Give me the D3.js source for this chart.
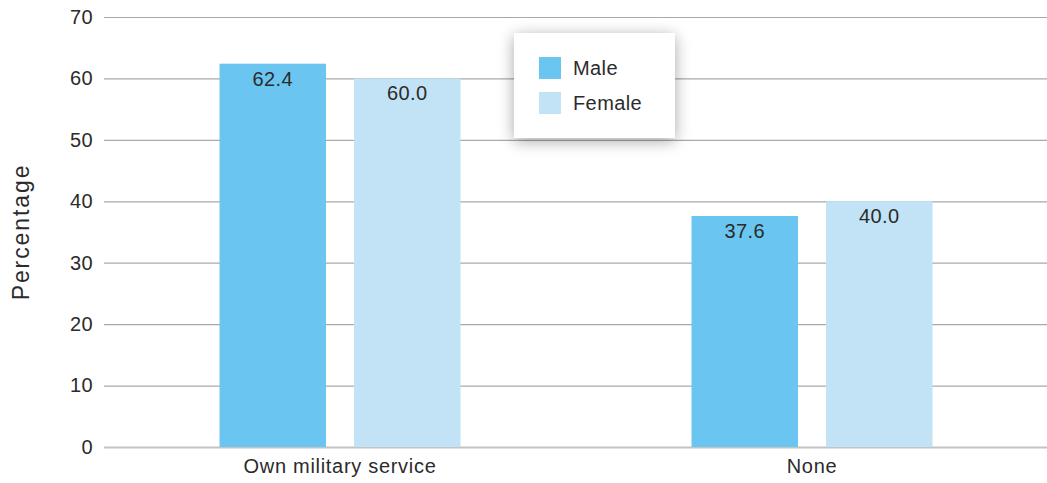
<!DOCTYPE html>
<html>
<head>
<meta charset="utf-8">
<script src="https://cdn.jsdelivr.net/npm/d3@7"></script>
<style>
  html, body { margin: 0; padding: 0; background: #fff; }
  svg { display: block; font-family: "Liberation Sans", Arial, Helvetica, sans-serif; }
</style>
</head>
<body>
<svg id="chart" width="1047" height="483"></svg>
<script>
// Chart data
const categories = ["Own military service", "None"];
const seriesNames = ["Male", "Female"];
const maleValues = [62.4, 37.6];
const femaleValues = [60.0, 40.0];
const yTicks = [0, 10, 20, 30, 40, 50, 60, 70];
const seriesColors = ["#6ac6f0", "#c1e3f5"];

const series = [maleValues, femaleValues];

const svg = d3.select("#chart");
const W = 1047, H = 483;
const margin = { top: 17, right: 0, bottom: 36, left: 104 };
const innerH = H - margin.top - margin.bottom;
const textColor = "#2b2b2b";

const x = d3.scaleBand()
  .domain(categories)
  .range([margin.left, 1048])
  .paddingInner(0)
  .paddingOuter(0);

const xSub = d3.scaleBand()
  .domain(seriesNames)
  .range([0, x.bandwidth()])
  .paddingInner(0.208)
  .paddingOuter(0.859);

const y = d3.scaleLinear()
  .domain([0, 70])
  .range([margin.top + innerH, margin.top]);

// Defs: legend shadow
const defs = svg.append("defs");
const f = defs.append("filter").attr("id", "shadow")
  .attr("x", "-30%").attr("y", "-40%").attr("width", "160%").attr("height", "180%");
f.append("feGaussianBlur").attr("in", "SourceAlpha").attr("stdDeviation", 8).attr("result", "b");
f.append("feOffset").attr("in", "b").attr("dx", 0).attr("dy", 3).attr("result", "o");
f.append("feComponentTransfer").attr("in", "o").attr("result", "s")
  .append("feFuncA").attr("type", "linear").attr("slope", 0.35);
const m = f.append("feMerge");
m.append("feMergeNode").attr("in", "s");
m.append("feMergeNode").attr("in", "SourceGraphic");

// Gridlines and y axis labels
const yAxis = d3.axisLeft(y)
  .tickValues(yTicks)
  .tickSize(-(W - margin.left))
  .tickPadding(11)
  .tickFormat(d3.format("d"));

const gy = svg.append("g")
  .attr("transform", `translate(${margin.left},0)`)
  .call(yAxis);
gy.select(".domain").remove();
gy.selectAll(".tick line")
  .attr("stroke", d => d === 0 ? "#c4c4c4" : "#a9a9a9")
  .attr("stroke-width", d => d === 0 ? 2 : 1.2);
gy.selectAll(".tick text")
  .attr("fill", textColor)
  .attr("font-size", 20)
  .attr("letter-spacing", 0.4);

// Y axis title
svg.append("text")
  .attr("transform", `translate(29,${y(35)}) rotate(-90)`)
  .attr("text-anchor", "middle")
  .attr("font-size", 23)
  .attr("letter-spacing", 1.9)
  .attr("fill", textColor)
  .text("Percentage");

// Bars
const groups = svg.append("g").selectAll("g")
  .data(categories)
  .join("g")
  .attr("transform", d => `translate(${x(d)},0)`);

groups.selectAll("rect")
  .data((c, i) => seriesNames.map((s, k) => ({ s, k, v: series[k][i] })))
  .join("rect")
  .attr("x", d => xSub(d.s))
  .attr("width", xSub.bandwidth())
  .attr("y", d => y(d.v))
  .attr("height", d => y(0) - y(d.v))
  .attr("fill", d => seriesColors[d.k]);

groups.selectAll("text.val")
  .data((c, i) => seriesNames.map((s, k) => ({ s, k, v: series[k][i] })))
  .join("text")
  .attr("class", "val")
  .attr("x", d => xSub(d.s) + xSub.bandwidth() / 2)
  .attr("y", d => y(d.v) + 22)
  .attr("text-anchor", "middle")
  .attr("font-size", 20)
  .attr("letter-spacing", 0.4)
  .attr("fill", textColor)
  .text(d => d3.format(".1f")(d.v));

// Category labels
const xAxis = d3.axisBottom(x).tickSize(0).tickPadding(12);
const gx = svg.append("g")
  .attr("transform", `translate(0,${y(0)})`)
  .call(xAxis);
gx.select(".domain").remove();
gx.selectAll(".tick text")
  .attr("fill", textColor)
  .attr("font-size", 20)
  .attr("letter-spacing", 0.7);

// Legend
const lg = svg.append("g").attr("transform", "translate(514,33)");
lg.append("rect")
  .attr("width", 161).attr("height", 105)
  .attr("fill", "#fff")
  .attr("filter", "url(#shadow)");
const items = lg.selectAll("g.item")
  .data(seriesNames)
  .join("g")
  .attr("class", "item")
  .attr("transform", (d, i) => `translate(25,${24 + i * 35})`);
items.append("rect")
  .attr("width", 22).attr("height", 22)
  .attr("fill", (d, i) => seriesColors[i]);
items.append("text")
  .attr("x", 34).attr("y", 11)
  .attr("dy", "0.35em")
  .attr("font-size", 20)
  .attr("letter-spacing", 0.4)
  .attr("fill", textColor)
  .text(d => d);
</script>
</body>
</html>
